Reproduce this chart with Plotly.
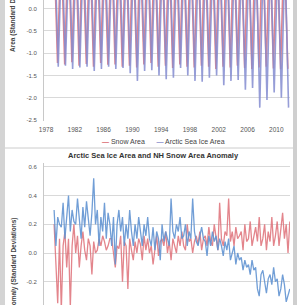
import plotly.graph_objects as go

# ---- Top chart: seasonal cycle (annual peak / trough, standardised area) ----
years = list(range(1979, 2012))
ice_min = [-1.30, -1.28, -1.35, -1.32, -1.30, -1.40, -1.35, -1.30, -1.35, -1.33,
           -1.45, -1.62, -1.40, -1.38, -1.50, -1.58, -1.55, -1.33, -1.50, -1.62,
           -1.64, -1.55, -1.50, -1.72, -1.62, -1.60, -1.82, -1.78, -2.22, -2.05,
           -1.88, -2.00, -2.22]
ice_max = [1.45, 1.50, 1.42, 1.48, 1.45, 1.40, 1.43, 1.42, 1.45, 1.40,
           1.38, 1.40, 1.36, 1.40, 1.42, 1.38, 1.35, 1.36, 1.38, 1.40,
           1.38, 1.34, 1.35, 1.33, 1.34, 1.30, 1.25, 1.24, 1.26, 1.30,
           1.28, 1.22, 1.20]
snow_min = [-1.22, -1.25, -1.20, -1.28, -1.24, -1.30, -1.22, -1.26, -1.25, -1.30,
            -1.28, -1.32, -1.25, -1.22, -1.30, -1.28, -1.33, -1.25, -1.30, -1.32,
            -1.28, -1.30, -1.35, -1.30, -1.32, -1.28, -1.33, -1.35, -1.32, -1.30,
            -1.34, -1.36, -1.35]
snow_max = [1.60, 1.55, 1.58, 1.62, 1.55, 1.57, 1.60, 1.54, 1.58, 1.52,
            1.55, 1.56, 1.50, 1.58, 1.55, 1.52, 1.54, 1.58, 1.50, 1.52,
            1.56, 1.55, 1.53, 1.57, 1.55, 1.52, 1.50, 1.55, 1.53, 1.50,
            1.52, 1.55, 1.50]

# ---- Bottom chart: quarterly anomalies (standard deviations) ----
ice_anom = [0.30, 0.05, 0.25, 0.20, 0.18, 0.35, 0.10, 0.28, 0.40, 0.15, 0.30, 0.22,
            0.20, 0.38, 0.25, 0.10, 0.32, 0.18, 0.36, 0.25, 0.12, 0.28, 0.52, 0.20,
            0.30, 0.05, 0.25, 0.15, 0.35, 0.10, 0.28, 0.20, 0.05, 0.25, -0.08, 0.20,
            0.30, 0.15, 0.25, 0.05, 0.20, 0.10, 0.30, 0.15, 0.05, 0.20, 0.10, 0.25,
            0.15, 0.05, 0.20, 0.12, 0.25, 0.10, 0.05, 0.18, 0.02, 0.15, 0.10, -0.05,
            0.20, 0.08, 0.15, 0.10, 0.05, 0.38, 0.15, 0.10, 0.20, 0.15, 0.25, 0.10,
            0.12, 0.20, 0.05, 0.15, 0.10, 0.38, 0.15, 0.08, 0.05, 0.12, 0.18, 0.10,
            0.08, -0.02, 0.12, 0.05, 0.15, 0.08, 0.12, 0.02, 0.10, 0.05, -0.02, 0.08,
            0.02, 0.10, -0.05, 0.00, 0.05, -0.08, 0.00, -0.05, -0.03, -0.12, -0.05, -0.10,
            -0.08, -0.15, -0.05, -0.12, -0.10, -0.25, -0.30, -0.15, -0.12, -0.20, -0.28, -0.18,
            -0.15, -0.22, -0.10, -0.20, -0.18, -0.30, -0.25, -0.15, -0.22, -0.34, -0.30, -0.25]
snow_anom = [0.20, -0.05, -0.35, 0.10, -0.40, 0.05, 0.15, -0.10, 0.10, -0.38, 0.05, 0.20,
             0.00, 0.12, -0.10, 0.05, 0.15, 0.02, -0.05, 0.10, 0.05, -0.15, 0.08, 0.00,
             0.02, 0.10, 0.05, 0.12, 0.08, 0.02, 0.05, 0.10, 0.10, 0.00, -0.10, 0.05,
             0.03, 0.12, -0.20, 0.08, 0.05, -0.25, 0.10, 0.02, -0.05, 0.08, 0.00, 0.10,
             0.06, -0.05, 0.12, 0.02, 0.10, 0.00, 0.05, -0.08, 0.04, 0.12, -0.02, 0.08,
             0.10, 0.05, 0.15, 0.00, 0.08, -0.05, 0.10, 0.05, 0.00, 0.12, 0.05, 0.15,
             0.05, 0.02, 0.20, 0.08, 0.10, 0.00, 0.08, 0.12, 0.06, 0.15, 0.02, 0.10,
             0.12, 0.05, 0.18, 0.08, 0.05, 0.20, 0.10, 0.02, 0.35, 0.10, 0.05, 0.15,
             0.12, 0.38, 0.08, 0.15, 0.05, 0.18, 0.10, 0.12, 0.15, 0.02, 0.20, 0.08,
             0.10, 0.22, 0.05, 0.12, 0.18, 0.08, 0.25, 0.05, 0.10, 0.20, 0.02, 0.15,
             0.08, 0.25, 0.05, 0.12, 0.22, 0.05, 0.15, 0.28, 0.10, 0.20, 0.00, 0.22]
quarter_offsets = [0.125, 0.375, 0.625, 0.875]

year_ticks = [1978, 1982, 1986, 1990, 1994, 1998, 2002, 2006, 2010]
top_yticks = [0.0, -0.5, -1.0, -1.5, -2.0, -2.5]
bot_yticks = [0.6, 0.4, 0.2, 0.0, -0.2]

RED = "rgba(222,112,120,0.85)"
PURPLE = "rgba(132,140,208,0.85)"
BLUE = "rgba(98,148,210,0.9)"

# build series coordinates from the annual values
ice_x, ice_y, snow_x, snow_y = [], [], [], []
for i, yr in enumerate(years):
    ice_x += [yr + 0.2, yr + 0.7]
    ice_y += [ice_max[i], ice_min[i]]
    snow_x += [yr + 0.08, yr + 0.6]
    snow_y += [snow_max[i], snow_min[i]]
qx = [yr + q for yr in years for q in quarter_offsets]

W, H = 297, 305
fig = go.Figure()
fig.add_trace(go.Scatter(x=snow_x, y=snow_y, mode="lines", line=dict(color=RED, width=1.6),
                         xaxis="x", yaxis="y", showlegend=False, hoverinfo="skip"))
fig.add_trace(go.Scatter(x=ice_x, y=ice_y, mode="lines", line=dict(color=PURPLE, width=1.6),
                         xaxis="x", yaxis="y", showlegend=False, hoverinfo="skip"))
fig.add_trace(go.Scatter(x=qx, y=snow_anom, mode="lines", line=dict(color=RED, width=1.3),
                         xaxis="x2", yaxis="y2", showlegend=False, hoverinfo="skip"))
fig.add_trace(go.Scatter(x=qx, y=ice_anom, mode="lines", line=dict(color=BLUE, width=1.3),
                         xaxis="x2", yaxis="y2", showlegend=False, hoverinfo="skip"))

FONT = "Liberation Sans, Arial"
xdom = [44 / W, 290 / W]
xrange_ = [1977.72, 2011.9]
tickfont = dict(family=FONT, size=6, color="#555555")
fig.update_layout(
    width=W, height=H, margin=dict(l=0, r=0, t=0, b=0, autoexpand=False),
    paper_bgcolor="white", plot_bgcolor="white", hovermode=False,
    xaxis=dict(domain=xdom, range=xrange_, tickvals=year_ticks, automargin=False,
               ticktext=[str(t) for t in year_ticks], showgrid=False, zeroline=False,
               showline=False, ticks="", ticklabelstandoff=3, ticklabeloverflow="allow",
               tickfont=dict(family=FONT, size=6.5, color="#555555")),
    yaxis=dict(domain=[1 - 121 / H, 1], range=[-2.52, 0.195], tickvals=top_yticks,
               ticktext=["0.0", "-0.5", "-1.0", "-1.5", "-2.0", "-2.5"], automargin=False,
               showgrid=True, gridcolor="#d9d9d9", gridwidth=1, zeroline=False,
               showline=True, linecolor="#c8c8c8", ticks="", ticklabelstandoff=5,
               ticklabeloverflow="allow", tickfont=tickfont),
    xaxis2=dict(domain=xdom, range=xrange_, anchor="y2", showticklabels=False, automargin=False,
                showgrid=False, zeroline=False, showline=False, ticks=""),
    yaxis2=dict(domain=[0, 1 - 163 / H], range=[-0.362, 0.627], anchor="x2", automargin=False,
                tickvals=bot_yticks, ticktext=["0.6", "0.4", "0.2", "0.0", "-0.2"],
                showgrid=True, gridcolor="#d9d9d9", gridwidth=1, zeroline=False,
                showline=True, linecolor="#c8c8c8", ticks="", ticklabelstandoff=5,
                ticklabeloverflow="allow", tickfont=tickfont),
)

# frame decorations (panel borders of the source image)
fig.add_shape(type="rect", xref="paper", yref="paper", x0=0, x1=5 / W, y0=0, y1=1,
              fillcolor="#d4d4d4", line_width=0, layer="above")
fig.add_shape(type="rect", xref="paper", yref="paper", x0=293 / W, x1=1, y0=0, y1=1,
              fillcolor="#cfcfcf", line_width=0, layer="above")
fig.add_shape(type="line", xref="paper", yref="paper", x0=5 / W, x1=293 / W,
              y0=1 - 148 / H, y1=1 - 148 / H, line=dict(color="#cccccc", width=1))

# legend of top chart
fig.add_annotation(xref="paper", yref="paper", x=100 / W, y=1 - 141 / H, xanchor="left", yanchor="middle",
                   showarrow=False,
                   text='<span style="color:#d96a70"><b>—</b></span> Snow Area      '
                        '<span style="color:#8a90cc"><b>—</b></span> Arctic Sea Ice Area',
                   font=dict(family=FONT, size=7, color="#444444"))
# axis titles
fig.add_annotation(xref="paper", yref="paper", x=13 / W, y=1 - 11 / H, textangle=-90,
                   xanchor="center", yanchor="middle",
                   showarrow=False, text="<b>Area (Standard Deviations)</b>",
                   font=dict(family=FONT, size=6.5, color="#444444"))
fig.add_annotation(xref="paper", yref="paper", x=14 / W, y=1 - 266 / H, textangle=-90,
                   xanchor="center", yanchor="middle",
                   showarrow=False, text="<b>Anomaly (Standard Deviations)</b>",
                   font=dict(family=FONT, size=6.5, color="#444444"))
# bottom chart title
fig.add_annotation(xref="paper", yref="paper", x=153 / W, y=1 - 155 / H, showarrow=False,
                   xanchor="center", yanchor="middle",
                   text="<b>Arctic Sea Ice Area and NH Snow Area Anomaly</b>",
                   font=dict(family=FONT, size=7.5, color="#333333"))

fig.write_html("out.html", config={"displayModeBar": False, "staticPlot": True},
               post_script="document.body.style.margin='0';document.body.style.padding='0';"
                           "document.body.style.overflow='hidden';")
